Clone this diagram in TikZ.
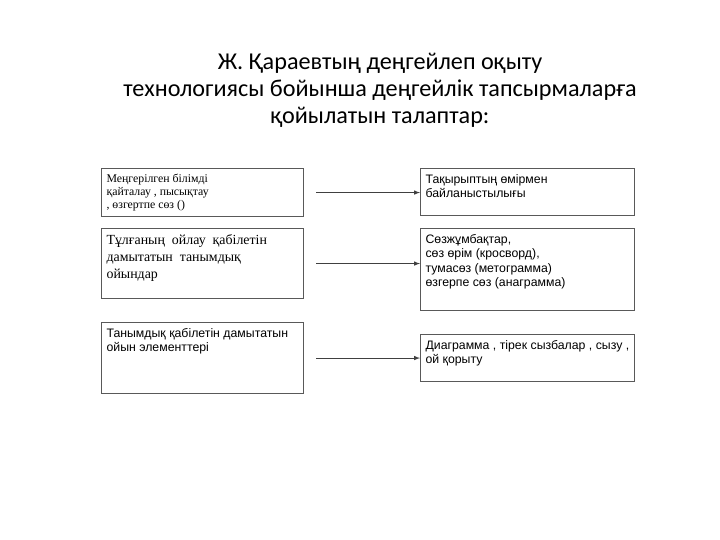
\documentclass[tikz,border=0pt]{standalone}
\usepackage{fontspec}
\setmainfont{Liberation Serif}
\newfontfamily\arialfont{Liberation Sans}
\newfontfamily\titlefont{Carlito}
\usetikzlibrary{arrows}
\newcommand{\cell}[3]{\parbox[t][#2pt][t]{#1pt}{#3}}
\begin{document}
\begin{tikzpicture}[x=1pt, y=-1pt,
	box/.style={draw=black!65, line width=1.1pt, inner xsep=5pt, inner ysep=6pt, anchor=north west},
	conn/.style={->, >=latex, draw=black!75, line width=1pt, shorten <=12pt},
	serif/.style={font=\fontsize{11.8}{13}\selectfont},
	bigserif/.style={font=\fontsize{13.9}{17}\selectfont},
	sans/.style={font=\arialfont\fontsize{12.3}{14.3}\selectfont}]
\useasboundingbox (0,0) rectangle (720,540);
\node[font=\titlefont\fontsize{24.2}{27}\selectfont, align=center] (title) at (380,90)
	{Ж. Қараевтың деңгейлеп оқыту\\ технологиясы бойынша деңгейлік тапсырмаларға\\ қойылатын талаптар:};
\node[box, serif] (l1) at (101,168) {\cell{192}{36}{Меңгерілген білімді\\ қайталау , пысықтау\\ , өзгертпе сөз ()}};
\node[box, bigserif] (l2) at (101,228) {\cell{192}{58}{Тұлғаның\ \ ойлау\ \ қабілетін\\ дамытатын\ \ танымдық\\ ойындар}};
\node[box, sans] (l3) at (101,322) {\cell{192}{59}{Танымдық қабілетін дамытатын\\ ойын элементтері}};
\node[box, sans] (r1) at (420,168) {\cell{204}{35}{Тақырыптың өмірмен\\ байланыстылығы}};
\node[box, sans] (r2) at (420,228) {\cell{204}{70}{Сөзжұмбақтар,\\ сөз өрім (кросворд),\\ тумасөз (метограмма)\\ өзгерпе сөз (анаграмма)}};
\node[box, sans] (r3) at (420,334) {\cell{204}{35}{Диаграмма , тірек сызбалар , сызу ,\\ ой қорыту}};
\draw[conn] (l1) -- (l1 -| r1.west);
\draw[conn] (l2) -- (l2 -| r2.west);
\draw[conn] (l3) -- (l3 -| r3.west);
\end{tikzpicture}
\end{document}
